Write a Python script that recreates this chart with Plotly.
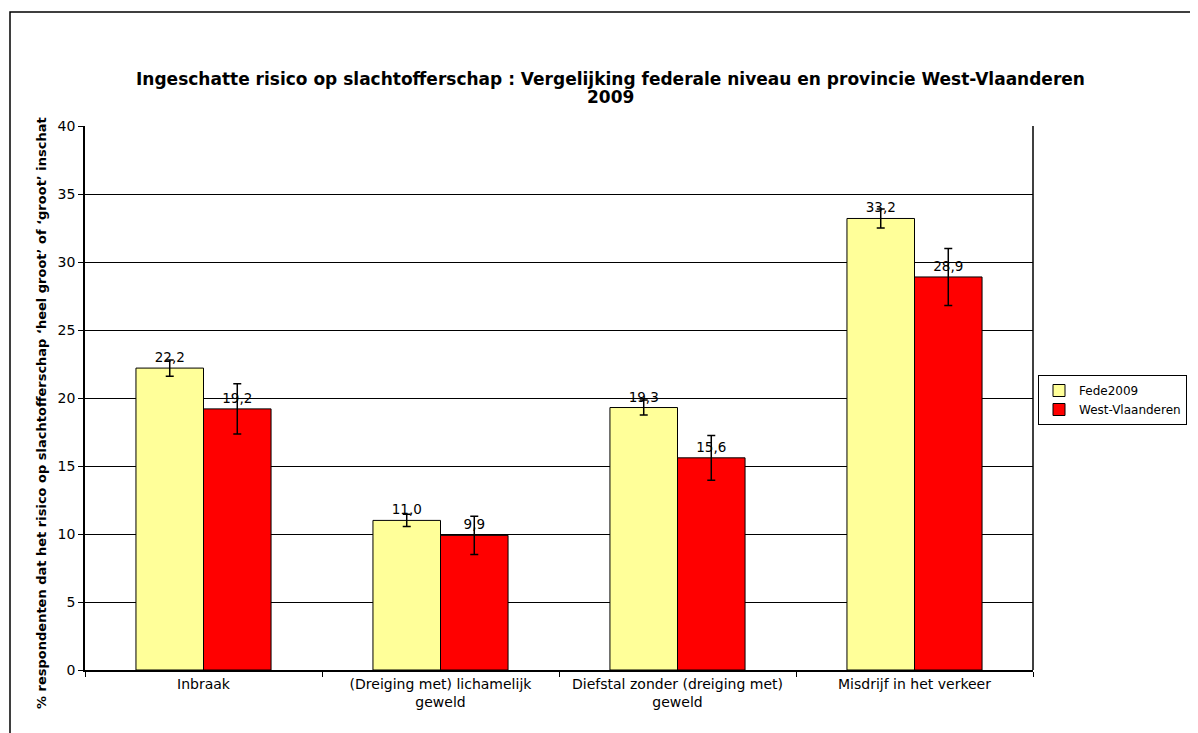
import plotly.graph_objects as go

categories = [
    "Inbraak",
    "(Dreiging met) lichamelijk<br>geweld",
    "Diefstal zonder (dreiging met)<br>geweld",
    "Misdrijf in het verkeer",
]
fede2009 = [22.2, 11.0, 19.3, 33.2]
fede2009_err = [0.6, 0.45, 0.55, 0.7]
west_vl = [19.2, 9.9, 15.6, 28.9]
west_vl_err = [1.85, 1.4, 1.65, 2.1]

FONT = "DejaVu Sans, Arial, sans-serif"

# page body adds 8px, so figure coords = screen coords - 8
W, H = 1190, 725
L, R, T, B = 77, 165, 118, 63
PW, PH = W - L - R, H - T - B


def px_x(x):
    return (x - 8 - L) / PW


def px_y(y):
    return 1 - (y - 8 - T) / PH


def bar(name, values, errors, color):
    return go.Bar(
        name=name,
        x=categories,
        y=values,
        marker=dict(color=color, line=dict(color="black", width=1)),
        error_y=dict(type="data", array=errors, color="black", thickness=1.5, width=4),
        texttemplate="%{y:.1f}",
        textposition="outside",
        textfont=dict(size=13.5, color="black"),
        cliponaxis=False,
    )


fig = go.Figure([
    bar("Fede2009", fede2009, fede2009_err, "#FFFF99"),
    bar("West-Vlaanderen", west_vl, west_vl_err, "#FF0000"),
])

title_font = dict(size=17, family=FONT, color="black")

fig.update_layout(
    width=W,
    height=H,
    margin=dict(l=L, r=R, t=T, b=B, autoexpand=False),
    paper_bgcolor="white",
    plot_bgcolor="white",
    separators=",.",
    barmode="group",
    bargap=0.43,
    bargroupgap=0,
    font=dict(family=FONT, size=14, color="black"),
    legend=dict(
        x=px_x(1038),
        y=px_y(375),
        xanchor="left",
        yanchor="top",
        bordercolor="black",
        borderwidth=1,
        font=dict(size=12),
        tracegroupgap=0,
        itemwidth=30,
    ),
    showlegend=True,
    annotations=[
        dict(text="<b>Ingeschatte risico op slachtofferschap : Vergelijking federale niveau en provincie West-Vlaanderen</b>",
             xref="paper", yref="paper", x=px_x(610), y=px_y(79),
             xanchor="center", yanchor="middle", showarrow=False, font=title_font),
        dict(text="<b>2009</b>",
             xref="paper", yref="paper", x=px_x(610), y=px_y(97),
             xanchor="center", yanchor="middle", showarrow=False, font=title_font),
        dict(text="<b>% respondenten dat het risico op slachtofferschap \u2018heel groot\u2019 of \u2018groot\u2019 inschat</b>",
             xref="paper", yref="paper", x=px_x(41), y=px_y(413), textangle=-90,
             xanchor="center", yanchor="middle", showarrow=False,
             font=dict(size=13, family=FONT, color="black")),
    ],
    shapes=[
        dict(type="rect", xref="paper", yref="paper",
             x0=px_x(10), x1=1.3, y0=-0.3, y1=px_y(12),
             line=dict(color="black", width=1.5), layer="below"),
        dict(type="line", xref="paper", yref="paper", x0=1, x1=1, y0=0, y1=1,
             line=dict(color="black", width=1.5)),
    ],
)

fig.update_yaxes(
    range=[0, 40],
    dtick=5,
    showgrid=True,
    gridcolor="black",
    gridwidth=1,
    showline=True,
    linecolor="black",
    linewidth=1.5,
    ticks="outside",
    ticklen=5,
    tickcolor="black",
    tickfont=dict(size=14),
    zeroline=False,
)
fig.update_xaxes(
    showline=True,
    linecolor="black",
    linewidth=1.5,
    ticks="outside",
    tickson="boundaries",
    ticklen=5,
    tickcolor="black",
    tickfont=dict(size=14),
)

fig.write_html("out.html")
